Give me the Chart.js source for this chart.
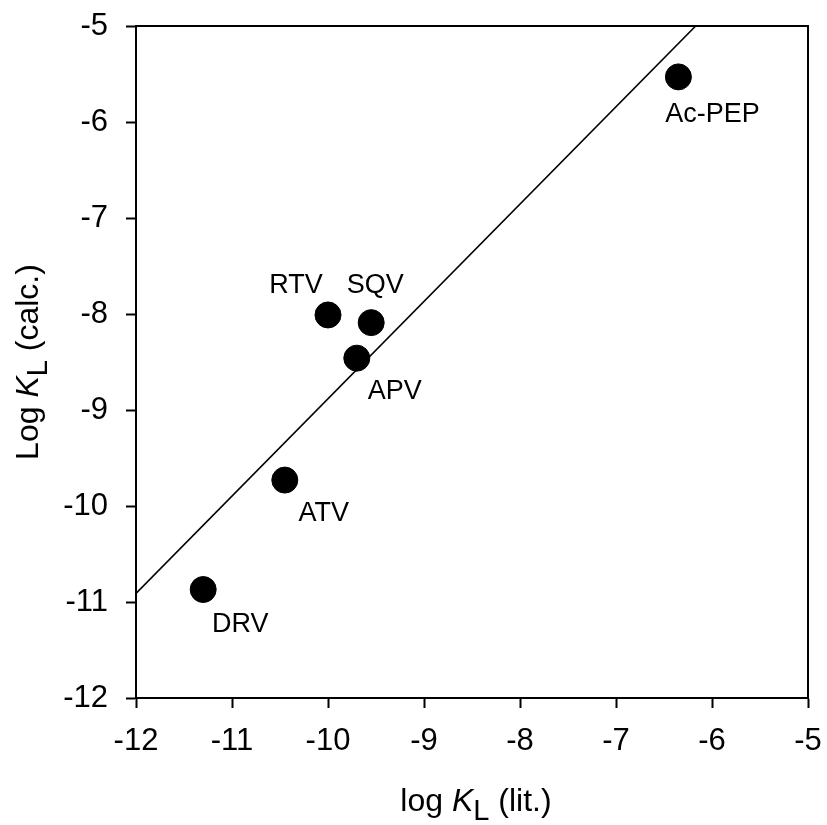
<!DOCTYPE html>
<html>
<head>
<meta charset="utf-8">
<script src="https://cdn.jsdelivr.net/npm/chart.js@4.4.1/dist/chart.umd.min.js"></script>
<style>
  html, body { margin: 0; padding: 0; background: #ffffff; }
  #wrap { width: 827px; height: 825px; }
</style>
</head>
<body>
<div id="wrap"><canvas id="c" width="827" height="825"></canvas></div>
<script>
// ---- data ----
const compounds = ["DRV", "ATV", "RTV", "SQV", "APV", "Ac-PEP"];
const logKLit   = [-11.30, -10.45, -10.00, -9.55, -9.70, -6.35];
const logKCalc  = [-10.87, -9.73, -8.01, -8.09, -8.46, -5.53];
const fitX = [-12.0, -6.17];
const fitY = [-10.91, -5.0];
const axisTicks = [-12, -11, -10, -9, -8, -7, -6, -5];

// label offsets (px) relative to each point, for placement only
const labelOffsets = {
  "DRV": [37, 35], "ATV": [39, 33], "RTV": [-32, -29],
  "SQV": [4, -37], "APV": [38, 33], "Ac-PEP": [34, 38]
};

const FONT = "'Liberation Sans', Arial, Helvetica, sans-serif";

const pointData = compounds.map((n, i) => ({ x: logKLit[i], y: logKCalc[i], name: n }));
const fitData = fitX.map((x, i) => ({ x: x, y: fitY[i] }));

const decorPlugin = {
  id: 'decor',
  afterDatasetsDraw(chart) {
    const ctx = chart.ctx;
    const a = chart.chartArea;
    const xs = chart.scales.x, ys = chart.scales.y;
    ctx.save();
    // top and right frame
    ctx.strokeStyle = '#000';
    ctx.lineWidth = 2;
    ctx.beginPath();
    ctx.moveTo(a.left, a.top);
    ctx.lineTo(a.right, a.top);
    ctx.lineTo(a.right, a.bottom);
    ctx.stroke();

    // point labels
    ctx.fillStyle = '#000';
    ctx.font = '27px ' + FONT;
    ctx.textAlign = 'center';
    ctx.textBaseline = 'middle';
    pointData.forEach(p => {
      const off = labelOffsets[p.name] || [0, 0];
      ctx.fillText(p.name, xs.getPixelForValue(p.x) + off[0], ys.getPixelForValue(p.y) + off[1]);
    });

    // axis titles with italic K and subscript L
    function drawTitle(parts, cx, baseline) {
      let total = 0;
      parts.forEach(pt => { ctx.font = pt.font; pt.w = ctx.measureText(pt.t).width; total += pt.w; });
      let x = cx - total / 2;
      ctx.textAlign = 'left';
      ctx.textBaseline = 'alphabetic';
      parts.forEach(pt => { ctx.font = pt.font; ctx.fillText(pt.t, x, baseline + (pt.dy || 0)); x += pt.w; });
    }
    const reg = '32px ' + FONT, ita = 'italic 32px ' + FONT, sub = '29px ' + FONT;
    const cx = (a.left + a.right) / 2 + 4;
    drawTitle([
      { t: 'log ', font: reg }, { t: 'K', font: ita }, { t: 'L', font: sub, dy: 9 }, { t: ' (lit.)', font: reg }
    ], cx, 811);

    ctx.save();
    ctx.translate(38, (a.top + a.bottom) / 2);
    ctx.rotate(-Math.PI / 2);
    drawTitle([
      { t: 'Log ', font: reg }, { t: 'K', font: ita }, { t: 'L', font: sub, dy: 9 }, { t: ' (calc.)', font: reg }
    ], 0, 0);
    ctx.restore();
    ctx.restore();
  }
};

const tickFont = { family: FONT, size: 31 };

new Chart(document.getElementById('c'), {
  type: 'scatter',
  data: {
    datasets: [
      {
        label: 'compounds',
        data: pointData,
        backgroundColor: '#000',
        borderColor: '#000',
        pointRadius: 13,
        pointHoverRadius: 13,
        order: 0
      },
      {
        type: 'line',
        label: 'fit',
        data: fitData,
        borderColor: '#000',
        borderWidth: 1.6,
        pointRadius: 0,
        fill: false,
        order: 1
      }
    ]
  },
  options: {
    responsive: false,
    animation: false,
    events: [],
    layout: { padding: { top: 26, right: 19, left: 0, bottom: 0 } },
    plugins: { legend: { display: false }, tooltip: { enabled: false } },
    scales: {
      x: {
        type: 'linear',
        min: -12, max: -5,
        afterBuildTicks: s => { s.ticks = axisTicks.map(v => ({ value: v })); },
        afterFit: s => { s.height = 127; s.paddingLeft = 0; s.paddingRight = 0; },
        ticks: { font: tickFont, color: '#000', padding: 15, maxRotation: 0, autoSkip: false },
        grid: { drawOnChartArea: false, drawTicks: true, tickLength: 10, tickColor: '#000', tickWidth: 2 },
        border: { display: true, color: '#000', width: 2 },
        title: { display: false }
      },
      y: {
        type: 'linear',
        min: -12, max: -5,
        afterBuildTicks: s => { s.ticks = axisTicks.map(v => ({ value: v })); },
        afterFit: s => { s.width = 136; s.paddingTop = 0; s.paddingBottom = 0; },
        ticks: { font: tickFont, color: '#000', padding: 18, autoSkip: false },
        grid: { drawOnChartArea: false, drawTicks: true, tickLength: 10, tickColor: '#000', tickWidth: 2 },
        border: { display: true, color: '#000', width: 2 },
        title: { display: false }
      }
    }
  },
  plugins: [decorPlugin]
});
</script>
</body>
</html>
